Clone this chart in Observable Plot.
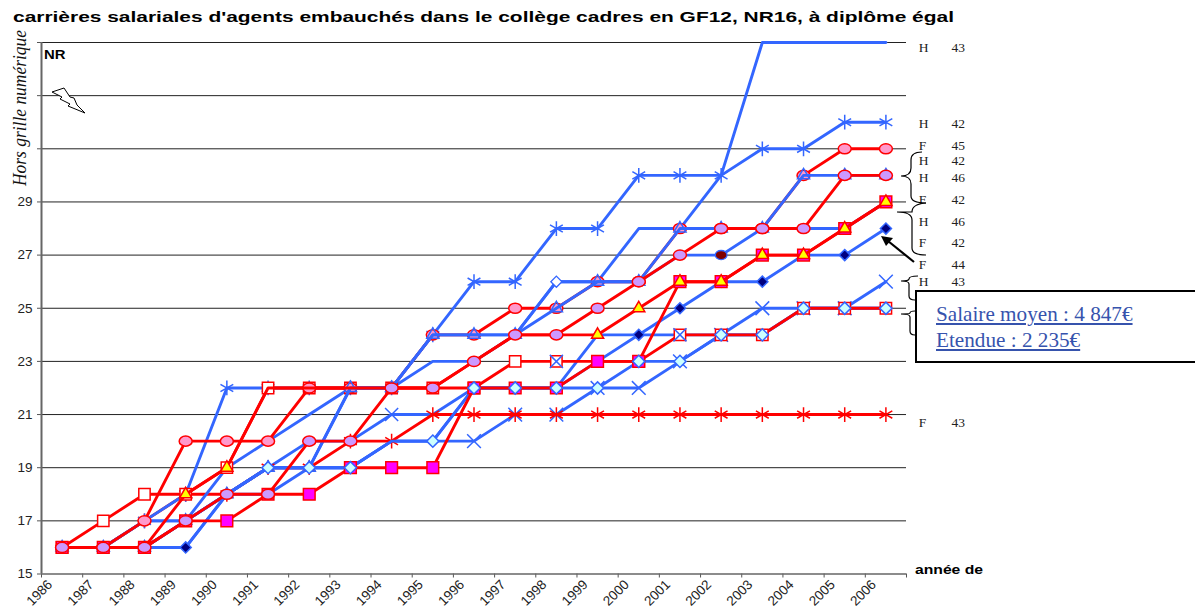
<!DOCTYPE html>
<html><head><meta charset="utf-8">
<script src="https://cdn.jsdelivr.net/npm/d3@7"></script>
<script src="https://cdn.jsdelivr.net/npm/@observablehq/plot@0.6"></script>
<style>
html,body{margin:0;padding:0;background:#fff;width:1195px;height:609px;overflow:hidden}
#chart svg{position:absolute;left:0;top:0;overflow:visible}
#over{position:absolute;left:0;top:0;pointer-events:none}
#box{position:absolute;left:915px;top:290px;width:290px;height:69px;border:2px solid #000;background:#fff;font:21.2px/26px "Liberation Serif",serif;color:#3653ad;padding:0}
#box div{position:absolute;left:19px;text-decoration:underline;white-space:nowrap}
</style></head><body>
<div id="chart"></div>
<svg id="over" width="1195" height="609" xmlns="http://www.w3.org/2000/svg">
<text x="13" y="22" font-family="Liberation Sans" font-weight="bold" font-size="15.5" textLength="941" lengthAdjust="spacingAndGlyphs" fill="#000">carrières salariales d'agents embauchés dans le collège cadres en GF12, NR16, à diplôme égal</text>
<text transform="translate(25.5,186) rotate(-90)" font-family="Liberation Serif" font-style="italic" font-size="19" textLength="156" lengthAdjust="spacingAndGlyphs" fill="#111">Hors grille numérique</text>
<text x="44" y="58.5" font-family="Liberation Sans" font-weight="bold" font-size="12.5" textLength="21.5" lengthAdjust="spacingAndGlyphs" fill="#000">NR</text>
<text x="915" y="573.5" font-family="Liberation Sans" font-weight="bold" font-size="12" textLength="68" lengthAdjust="spacingAndGlyphs" fill="#000">année de</text>
<path d="M52,92 L64,88 L70,97 L74,98 L77,105 L85,113 L68,106 L70,104 L60,99 L62,97 Z" fill="#fff" stroke="#000" stroke-width="1"/>
<g fill="none" stroke="#000" stroke-width="1.2">
<path d="M922,152 Q911,152 911,160 L911,168 Q911,176 901,176 Q911,176 911,184 L911,196 Q911,203 926,203"/>
<path d="M926,203 Q912,204 912,212 Q912,212 897,212 Q912,212 912,220 L912,248 Q912,255 926,255"/>
<path d="M918,276 Q909,276 909,279 Q909,281 901,281 Q909,281 909,284 L909,296 Q909,300 915,300"/>
<path d="M915,311 Q910,311 910,313 Q910,314 901,314 Q910,314 910,317 L910,331 Q910,335 915,335"/>
</g>
<path d="M914,262 L888,241" stroke="#000" stroke-width="2.2" fill="none"/>
<path d="M881,236 L893,238 L886,246 Z" fill="#000"/>
</svg>
<div id="box"><div style="top:9px">Salaire moyen : 4 847€</div><div style="top:35px">Etendue : 2 235€</div></div>
<script>
const years = [1986,1987,1988,1989,1990,1991,1992,1993,1994,1995,1996,1997,1998,1999,2000,2001,2002,2003,2004,2005,2006];
const yearTicks = [...years, 2007];
const levels = [15,17,19,21,23,25,27,29,31,33,35];

const redAsterisk = [16,16,17,18,18,19,19,20,20,21,21,21,21,21,21,21,21,21,21,21,21];
const blueTimes   = [16,16,16,16,18,18,19,19,20,20,20,21,21,22,22,23,24,25,25,25,26];
const blueStar    = [16,16,17,18,22,22,22,22,22,24,26,26,28,28,30,30,30,31,31,32,32];
const redHollow   = [16,17,18,18,19,22,22,22,22,22,22,23,23,23,23,24,24,24,25,25,25];
const blueTop     = [16,16,17,17,19,20,21,22,22,23,23,24,26,26,28,28,30,35,35,35,35];
const redPink     = [16,16,17,20,20,20,22,22,22,24,24,25,25,26,26,28,28,28,30,31,31];
const blueTriangle= [16,16,16,17,18,19,19,22,22,24,24,24,25,26,26,28,28,28,30,30,30];
const blueSecond  = [16,16,16,17,18,19,19,22,22,24,24,24,26,26,26,27,27,28,28,28,29];
const blueNavy    = [16,16,16,16,18,19,19,19,20,20,22,22,22,23,24,25,26,26,27,27,28];
const redMagenta  = [16,16,16,17,17,18,18,19,19,19,22,22,22,23,23,26,26,27,27,28,29];
const redYellow   = [16,16,16,18,19,22,22,22,22,22,23,24,24,24,25,26,26,27,27,28,29];
const redLilac    = [16,16,16,17,18,18,20,20,22,22,23,24,24,25,26,27,28,28,28,30,30];
const blueDiamondA= [16,16,17,17,18,19,20,20,21,21,22,22,22,22,23,23,24,24,25,25,25];
const blueDiamondB= [16,16,16,17,18,19,19,19,20,20,22,22,22,24,24,24,24,24,25,25,25];

const timesMarkerYears    = [1996,1997,1998,1999,2000,2001,2002,2003,2004,2005,2006];
const starMarkerYears     = [1988,1989,1990,1991,1992,1993,1994,1995,1996,1997,1998,1999,2000,2001,2002,2003,2004,2005,2006];
const asteriskMarkerYears = [1988,1989,1990,1991,1992,1993,1994,1995,1996,1997,1998,1999,2000,2001,2002,2003,2004,2005,2006];
const yellowMarkerYears   = [1989,1990,1999,2000,2001,2002,2003,2004,2005,2006];
const navyMarkerYears     = [1989,2000,2001,2002,2003,2005,2006];
const diamondAMarkerYears = [1999,2000,2001];
const diamondBMarkerYears = [1991,1992,1993,1995,1996,1997,1998,2002,2003,2004,2005,2006];

const labelLevels = [34.8,31.95,31.1,30.55,29.9,29.1,28.25,27.45,26.65,26,20.7];
const labelSex    = ["H","H","F","H","H","F","H","F","F","H","F"];
const labelAge    = ["43","42","45","42","46","42","46","42","44","43","43"];

const hollowDiamondYears  = [1998];
const hollowDiamondValues = [26];
const maroonYears  = [2002];
const maroonValues = [27];
const crossYears  = [1994,1998,2001];
const crossValues = [21,23,24];

const RED = "#ff0000", BLUE = "#3366ff";
const oval = {draw(c, size){
  const r = Math.sqrt(size / Math.PI), a = r * 1.18, b = r * 0.92, k = 0.5523;
  c.moveTo(-a, 0);
  c.bezierCurveTo(-a, -k*b, -k*a, -b, 0, -b);
  c.bezierCurveTo(k*a, -b, a, -k*b, a, 0);
  c.bezierCurveTo(a, k*b, k*a, b, 0, b);
  c.bezierCurveTo(-k*a, b, -a, k*b, -a, 0);
  c.closePath();
}};
const diamondSeries = [
  {v: blueDiamondA, c: BLUE, sym: "diamond2", fill: "#ccffff", stroke: BLUE, r: 5.5, only: diamondAMarkerYears},
  {v: blueDiamondB, c: BLUE, sym: "diamond2", fill: "#ccffff", stroke: BLUE, r: 5.5, only: diamondBMarkerYears}
];
const series = [
  {v: blueTimes,    c: BLUE, sym: "times",    fill: "none",    stroke: BLUE, r: 6.3, only: timesMarkerYears},
  {v: redAsterisk,  c: RED,  sym: "asterisk", fill: "none",    stroke: RED,  r: 7,   only: asteriskMarkerYears},
  {v: blueStar,     c: BLUE, sym: "asterisk", fill: "none",    stroke: BLUE, r: 7,   only: starMarkerYears},
  {v: blueTop,      c: BLUE},
  {v: redHollow,    c: RED,  sym: "square",   fill: "#fff",    stroke: RED,  r: 6.4},
  {v: redPink,      c: RED,  sym: oval,       fill: "#ff99cc", stroke: RED,  r: 5.5},
  {v: blueTriangle, c: BLUE, sym: "triangle", fill: "none",    stroke: BLUE, r: 4.5},
  {v: blueSecond,   c: BLUE},
  {v: blueNavy,     c: BLUE, sym: "diamond2", fill: "#000080", stroke: BLUE, r: 5, only: navyMarkerYears},
  {v: redMagenta,   c: RED,  sym: "square",   fill: "#ff00ff", stroke: RED,  r: 6.6},
  {v: redYellow,    c: RED,  sym: "triangle", fill: "#ffff00", stroke: RED,  r: 4.5, only: yellowMarkerYears},
  {v: redLilac,     c: RED,  sym: oval,       fill: "#cc99ff", stroke: RED,  r: 5.5}
];
const rowsOf = v => years.map((y, i) => ({year: y, x: y + 0.5, y: v[i]}));
const pts = (ys, vs) => ys.map((y, i) => ({x: y + 0.5, y: vs[i]}));
const lineOf = s => Plot.line(rowsOf(s.v), {x: "x", y: "y", stroke: s.c, strokeWidth: 2.9, curve: "linear"});
const dotsOf = s => {
  const rows = rowsOf(s.v);
  const shown = s.only ? rows.filter(d => s.only.includes(d.year)) : rows;
  return Plot.dot(shown, {x: "x", y: "y", symbol: () => s.sym, r: s.r, fill: s.fill, stroke: s.stroke, strokeWidth: 1.5});
};

const marks = [
  Plot.ruleY(levels.filter(d => d > 15), {stroke: "#222", strokeWidth: 1}),
  Plot.axisX({ticks: yearTicks, tickFormat: () => "", tickSize: 4, stroke: "#555", label: null}),
  Plot.axisY({ticks: levels, tickSize: 4, stroke: "#555", tickPadding: 5, label: null, fontSize: 13.5, color: "#222",
              tickFormat: d => d <= 29 ? String(d) : ""}),
  Plot.ruleX([1986], {stroke: "#666", strokeWidth: 2}),
  Plot.ruleY([15], {stroke: "#666", strokeWidth: 1.5}),
  Plot.text(years, {x: d => d, text: d => String(d), frameAnchor: "bottom", rotate: -45, dy: 22, dx: 1, fontSize: 13.5, fill: "#222", textAnchor: "middle"})
];
diamondSeries.forEach(s => marks.push(lineOf(s)));
for (const s of series) {
  marks.push(lineOf(s));
  if (s.sym) marks.push(dotsOf(s));
}
diamondSeries.forEach(s => marks.push(dotsOf(s)));
marks.push(
  Plot.dot(pts(crossYears, crossValues), {x: "x", y: "y", symbol: "times", r: 6, fill: "none", stroke: BLUE, strokeWidth: 1.5}),
  Plot.dot(pts(hollowDiamondYears, hollowDiamondValues), {x: "x", y: "y", symbol: "diamond2", r: 5, fill: "#fff", stroke: BLUE, strokeWidth: 1.3}),
  Plot.dot(pts(maroonYears, maroonValues), {x: "x", y: "y", symbol: oval, r: 5, fill: "#800000", stroke: BLUE, strokeWidth: 1.3}),
  Plot.text(labelLevels, {x: () => 2007.3, y: d => d, text: (d, i) => labelSex[i], textAnchor: "start", fontFamily: "Liberation Serif", fontSize: 13.5, fill: "#222"}),
  Plot.text(labelLevels, {x: () => 2008.09, y: d => d, text: (d, i) => labelAge[i], textAnchor: "start", fontFamily: "Liberation Serif", fontSize: 13.5, fill: "#222"})
);

const chart = Plot.plot({
  width: 1195, height: 609,
  marginLeft: 41, marginRight: 289, marginTop: 42, marginBottom: 35.5,
  x: {domain: [1986, 2007], axis: null},
  y: {domain: [15, 35], axis: null},
  style: {fontFamily: "Liberation Sans", background: "transparent", overflow: "visible"},
  marks
});
document.getElementById("chart").appendChild(chart);
</script>
</body></html>
